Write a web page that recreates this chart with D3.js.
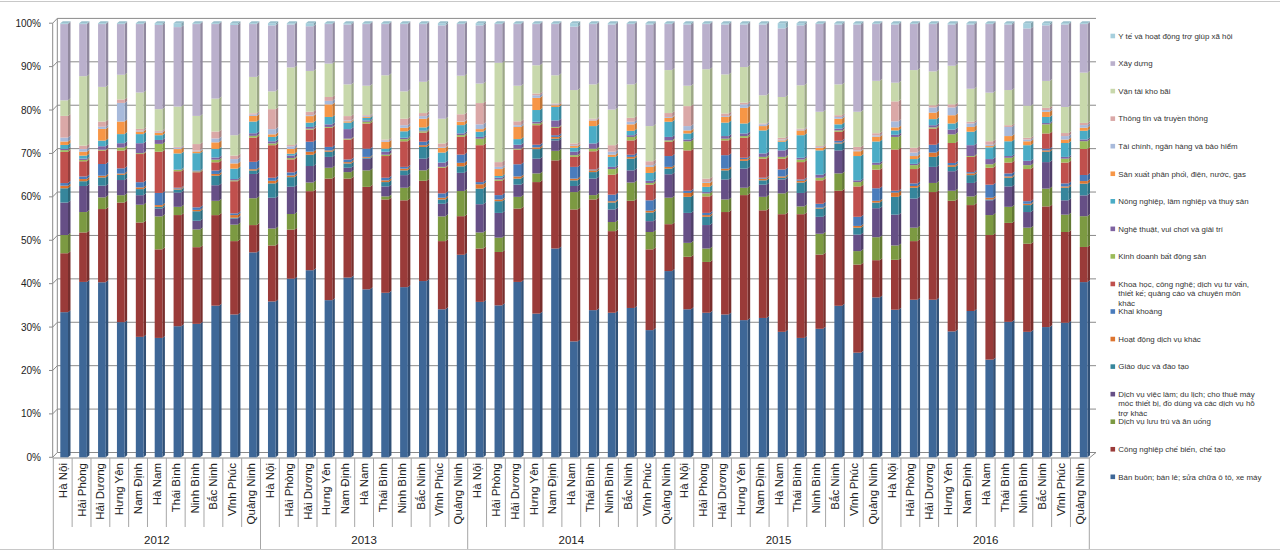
<!DOCTYPE html>
<html><head><meta charset="utf-8">
<script src="https://cdn.jsdelivr.net/npm/d3@7"></script>
<style>body{margin:0;background:#fff}svg{display:block}text{font-family:"Liberation Sans",Arial,sans-serif}</style>
</head><body><svg id="c" width="1280" height="556"></svg>
<script>
const years = ["2012","2013","2014","2015","2016"];
const provinces = ["Hà Nội","Hải Phòng","Hải Dương","Hưng Yên","Nam Định","Hà Nam","Thái Bình","Ninh Bình","Bắc Ninh","Vĩnh Phúc","Quảng Ninh"];
const yTicks = [0,0.1,0.2,0.3,0.4,0.5,0.6,0.7,0.8,0.9,1];
// series, bottom to top
const seriesNames = [
 "Bán buôn; bán lẻ; sửa chữa ô tô, xe máy",
 "Công nghiệp chế biến, chế tạo",
 "Dịch vụ lưu trú và ăn uống",
 "Dịch vụ việc làm; du lịch; cho thuê máy\nmóc thiết bị, đồ dùng và các dịch vụ hỗ\ntrợ khác",
 "Giáo dục và đào tạo",
 "Hoạt động dịch vụ khác",
 "Khai khoáng",
 "Khoa học, công nghệ; dịch vụ tư vấn,\nthiết kế; quảng cáo và chuyên môn\nkhác",
 "Kinh doanh bất động sản",
 "Nghệ thuật, vui chơi và giải trí",
 "Nông nghiệp, lâm nghiệp và thuỷ sản",
 "Sản xuất phân phối, điện, nước, gas",
 "Tài chính, ngân hàng và bảo hiểm",
 "Thông tin và truyền thông",
 "Vận tải kho bãi",
 "Xây dựng",
 "Y tế và hoạt động trợ giúp xã hội"
];
// values (%) per series, 2012..2016 x 11 provinces
const banBuon = [33.5,40.4,40.4,31.2,27.8,27.5,30.2,30.8,35.0,32.9,47.3, 35.9,41.2,43.1,36.2,41.4,38.7,37.9,39.2,40.6,34.1,46.7, 35.8,35.0,40.4,33.1,48.1,26.7,33.9,33.3,34.4,29.3,42.9, 34.1,33.3,32.9,31.6,32.1,28.9,27.5,29.6,34.9,24.1,36.9, 34.0,36.3,36.3,29.0,33.7,22.5,31.2,28.9,30.0,31.0,40.4];
const congNghiep = [13.6,11.4,16.9,27.6,26.4,20.4,25.6,17.7,20.9,16.9,6.3, 12.9,11.3,18.2,28.0,22.8,23.6,21.5,20.0,23.1,15.7,8.9, 12.3,12.3,16.9,30.3,20.3,30.4,25.5,18.8,24.7,18.6,10.8, 12.1,11.7,23.6,28.8,24.8,27.1,28.5,17.1,26.5,20.3,8.6, 11.5,13.5,24.8,30.1,24.4,28.7,22.8,20.3,27.8,20.9,8.1];
const luuTru = [4.2,4.7,2.7,1.7,4.1,7.6,1.9,4.1,3.3,3.8,6.2, 3.9,3.6,2.0,2.5,1.5,3.8,0.7,2.9,2.4,5.7,5.8, 3.7,3.3,2.7,2.0,2.2,4.0,1.0,2.1,4.2,4.0,6.1, 3.2,3.1,2.9,1.7,3.1,4.8,1.8,4.8,4.0,3.1,5.3, 3.3,3.1,2.1,2.3,2.0,4.6,3.7,3.7,4.1,4.0,7.1];
const viecLam = [7.5,6.0,2.7,3.5,2.2,1.8,3.3,2.0,3.6,1.4,5.6, 7.1,6.3,3.8,2.5,1.0,2.7,2.3,2.9,2.7,2.9,4.2, 6.5,5.7,2.8,3.4,2.4,1.4,3.8,2.9,2.8,2.5,5.4, 6.9,5.4,4.6,4.4,2.8,3.2,3.1,3.9,5.3,3.8,6.7, 7.1,6.7,3.7,4.5,3.1,3.4,4.7,3.6,6.1,3.3,4.8];
const giaoDuc = [3.3,1.1,1.9,1.2,1.4,0.4,0.7,2.2,2.2,0.2,0.8, 3.3,2.2,2.6,1.2,1.0,0.2,1.0,1.1,2.7,1.0,1.5, 3.6,2.7,1.4,2.2,0.4,1.3,1.5,1.6,2.7,2.0,1.3, 3.7,1.9,2.1,1.8,1.0,0.4,2.4,1.9,1.6,1.6,1.3, 4.1,2.5,2.3,1.0,1.8,0.2,2.0,1.6,2.4,2.9,2.7];
const dichVuKhac = [0.6,0.5,0.4,0.3,0.4,0.4,0.2,0.3,0.4,0.6,0.3, 0.6,0.4,0.7,0.3,0.3,0.2,0.4,0.4,0.4,0.4,0.8, 1.0,0.4,0.5,0.4,0.4,0.4,0.4,0.3,0.4,0.4,0.4, 0.9,0.4,0.4,0.4,0.4,0.3,0.4,0.2,0.2,0.4,0.4, 1.0,0.4,1.0,0.4,0.4,0.4,0.3,0.3,0.3,0.3,0.6];
const khaiKhoang = [0.6,0.6,2.7,1.2,1.2,2.8,0.2,0.6,0.8,0.4,1.7, 0.7,0.7,2.3,0.8,0.6,1.9,0.6,0.4,0.8,1.0,1.9, 0.5,1.0,2.8,0.6,0.4,2.7,0.2,1.5,0.5,2.4,2.5, 0.5,0.5,3.1,0.3,0.2,1.6,0.3,0.9,0.4,2.1,2.9, 0.4,0.6,1.8,0.5,0.3,3.0,0.7,0.6,0.4,0.7,1.4];
const khoaHoc = [7.2,3.5,3.1,4.1,6.5,9.5,3.8,8.1,1.9,7.4,5.6, 7.5,3.0,2.8,4.4,4.6,5.8,5.0,5.9,2.1,5.9,4.1, 8.5,3.3,3.4,4.5,1.7,2.3,4.2,4.6,3.3,3.6,3.3, 9.3,3.8,3.4,4.6,4.4,2.5,4.0,5.4,2.1,7.0,4.3, 9.5,3.3,3.7,4.6,3.5,3.9,2.5,7.4,3.5,4.8,6.0];
const batDongSan = [0.4,0.3,0.2,0.7,0.2,1.8,0.3,0.2,0.6,0.2,0.4, 0.4,0.3,0.2,0.2,0.2,0.4,0.3,0.5,0.3,0.2,0.4, 1.5,0.3,0.2,0.4,0.2,0.4,0.6,1.3,0.8,0.4,0.3, 2.1,0.7,0.4,0.4,0.4,0.4,0.6,0.6,0.3,1.0,1.1, 2.9,0.9,0.3,2.0,0.2,0.8,1.1,0.9,2.1,0.9,1.8];
const ngheThuat = [0.3,0.3,0.8,1.0,2.3,0.9,0.1,0.2,0.5,0.3,0.6, 0.5,0.6,0.4,0.6,2.2,0.3,0.7,0.3,0.2,1.0,0.4, 0.4,0.4,0.9,0.4,1.5,0.8,1.2,0.5,0.4,0.5,0.8, 0.4,0.3,0.6,0.6,0.8,1.5,0.4,0.7,0.4,0.4,0.5, 0.5,0.3,0.5,1.1,2.5,1.2,0.4,1.0,0.3,0.4,0.4];
const nongNghiep = [0.9,0.7,1.3,2.1,2.1,1.1,3.7,4.0,2.0,2.4,2.7, 1.0,0.4,1.0,1.7,1.5,0.6,0.7,1.5,0.7,2.3,1.9, 1.2,0.4,1.3,2.7,3.1,0.9,4.0,2.3,1.0,1.8,3.5, 1.4,1.2,3.1,2.3,5.3,2.0,5.2,5.6,1.0,5.6,4.9, 1.0,1.1,1.4,1.4,3.1,2.7,3.4,3.6,1.4,3.2,2.0];
const dienNuoc = [0.8,0.9,2.7,2.9,0.6,0.6,1.0,0.4,1.5,1.2,1.3, 0.6,1.1,1.5,2.9,0.3,0.2,1.6,0.8,2.0,1.1,0.8, 0.6,1.6,2.8,2.8,0.4,0.4,1.3,0.5,1.5,1.4,0.9, 0.7,0.9,1.3,3.6,1.0,0.3,1.1,0.6,1.3,1.1,1.1, 0.7,0.7,1.5,1.9,1.1,0.3,1.2,0.9,1.2,0.8,0.7];
const taiChinh = [0.9,0.6,0.5,4.3,0.2,0.2,0.3,0.2,0.9,1.0,0.3, 1.2,0.6,0.2,0.8,0.2,0.2,0.3,0.6,0.6,0.2,0.1, 1.1,0.5,0.4,0.6,0.2,0.2,0.2,0.7,0.6,0.4,0.2, 1.0,0.2,0.2,0.8,0.4,0.2,0.2,0.2,0.4,0.2,0.3, 1.4,0.8,1.2,1.8,0.8,0.3,2.1,0.4,0.4,0.8,0.6];
const thongTin = [5.0,0.8,1.2,0.8,0.4,0.2,0.2,1.5,1.6,0.8,0.3, 4.6,0.3,0.8,0.9,1.0,0.2,0.2,1.5,0.7,0.8,1.6, 4.9,1.1,0.9,0.4,0.2,0.4,0.2,1.5,0.9,0.9,0.9, 4.6,0.8,0.6,0.4,0.2,0.4,0.2,0.2,0.4,0.8,0.5, 4.6,1.1,0.5,0.7,0.4,0.8,0.4,0.4,0.5,0.7,0.5];
const vanTai = [3.6,16.0,8.0,5.7,8.4,5.0,9.3,6.5,7.6,4.7,8.4, 4.1,17.9,9.4,7.7,7.3,6.8,14.8,6.3,7.2,5.7,8.9, 4.5,22.9,8.2,6.5,6.5,12.3,7.9,8.2,7.7,8.1,9.9, 4.7,25.2,9.0,8.2,6.5,9.4,10.0,7.9,7.1,8.1,12.1, 4.3,17.9,7.8,8.9,7.6,11.2,8.1,7.4,6.2,6.0,11.6];
const xayDung = [17.6,12.0,14.5,11.7,15.8,19.4,18.3,21.2,17.2,25.4,12.2, 15.2,9.9,10.3,9.1,13.8,14.2,11.8,15.5,13.3,21.5,11.9, 13.4,8.9,14.2,9.5,11.8,14.6,13.9,19.6,13.9,23.4,10.6, 14.1,10.4,11.5,9.8,16.3,15.8,13.8,20.2,13.8,20.1,13.1, 13.4,10.6,10.9,9.5,14.8,15.8,15.1,17.8,12.8,19.0,11.2];
const yTe = [0.2,0.2,0.2,0.2,0.2,0.4,0.9,0.2,0.2,0.4,0.2, 0.5,0.3,0.7,0.2,0.3,0.2,0.2,0.2,0.2,0.5,0.2, 0.5,0.2,0.2,0.2,0.2,0.8,0.2,0.3,0.2,0.3,0.2, 0.3,0.2,0.3,0.3,0.3,1.2,0.5,0.2,0.3,0.3,0.2, 0.3,0.2,0.2,0.3,0.3,0.2,0.3,1.2,0.5,0.3,0.2];
const seriesValues = [banBuon,congNghiep,luuTru,viecLam,giaoDuc,dichVuKhac,khaiKhoang,khoaHoc,batDongSan,ngheThuat,nongNghiep,dienNuoc,taiChinh,thongTin,vanTai,xayDung,yTe];
const colors = ["#3E6797","#9A3B39","#7C9A42","#664F86","#36869C","#DD7530","#4A7CBC","#C0504D","#9BBB59","#7F63A1","#4BACC6","#F79646","#A8BADB","#DAA8A7","#C8D8AC","#BAB0CC","#A6CFDD"];

const svg = d3.select("#c");
const keys = [];
years.forEach(y => provinces.forEach(p => keys.push(y + "|" + p)));
const rows = keys.map((k, i) => { const o = {key: k}; seriesValues.forEach((arr, j) => o["s" + j] = arr[i]); return o; });
const skeys = seriesValues.map((_, j) => "s" + j);
const layers = d3.stack().keys(skeys).offset(d3.stackOffsetExpand)(rows);

const y = d3.scaleLinear().domain([0, 1]).range([457.3, 23.2]);
const xCat = d3.scaleBand().domain(keys).range([53.3, 1089.3]);
const xBar = d3.scaleBand().domain(keys).range([60.3, 1087.5]).paddingInner(0.5922).paddingOuter(0);
const DX = 2.5, DY = -2.0, WY = -4.8, WX = 4.6;
const gridC = "#8a8a8a";

// frame
svg.append("line").attr("x1", 0).attr("x2", 1280).attr("y1", 1.5).attr("y2", 1.5).attr("stroke", "#c8c8c8");
svg.append("line").attr("x1", 0).attr("x2", 1280).attr("y1", 549.5).attr("y2", 549.5).attr("stroke", "#c8c8c8");

// back wall gridlines
const g = svg.append("g");
yTicks.forEach(t => {
  g.append("path").attr("d", `M52.7,${y(t)}L${52.7 + WX},${y(t) + WY}L1096,${y(t) + WY}`)
    .attr("fill", "none").attr("stroke", gridC).attr("stroke-width", 1);
  g.append("line").attr("x1", 49).attr("x2", 52.7).attr("y1", y(t)).attr("y2", y(t)).attr("stroke", gridC);
});
g.append("line").attr("x1", 52.7).attr("x2", 52.7).attr("y1", y(0)).attr("y2", y(1)).attr("stroke", gridC);
g.append("line").attr("x1", 52.7 + WX).attr("x2", 52.7 + WX).attr("y1", y(0) + WY).attr("y2", y(1) + WY).attr("stroke", gridC);
// floor front edge
g.append("path").attr("d", `M52.7,${y(0) + 0.7}L1089.3,${y(0) + 0.7}L1096,${y(0) + WY}`).attr("fill", "none").attr("stroke", gridC);

// y labels
svg.append("g").selectAll("text").data(yTicks).join("text")
  .attr("x", 41).attr("y", d => y(d)).attr("dy", "0.35em").attr("text-anchor", "end")
  .attr("font-size", 10).attr("fill", "#222").text(d => Math.round(d * 100) + "%");

// bars
const bw = xBar.bandwidth();
layers.forEach((layer, j) => {
  const c = d3.color(colors[j]);
  const side = c.darker(0.7).formatHex();
  const gl = svg.append("g");
  gl.selectAll("path.side").data(layer).join("path").attr("class", "side")
    .attr("d", d => { const x1 = xBar(d.data.key) + bw, y0 = y(d[0]), y1 = y(d[1]);
      return `M${x1},${y1}L${x1 + DX},${y1 + DY}L${x1 + DX},${y0 + DY}L${x1},${y0}Z`; })
    .attr("fill", side);
  gl.selectAll("rect").data(layer).join("rect")
    .attr("x", d => xBar(d.data.key)).attr("width", bw)
    .attr("y", d => y(d[1])).attr("height", d => Math.max(0, y(d[0]) - y(d[1])))
    .attr("fill", colors[j]);
  if (j === layers.length - 1) {
    gl.selectAll("path.top").data(layer).join("path").attr("class", "top")
      .attr("d", d => { const x0 = xBar(d.data.key), yt = y(d[1]);
        return `M${x0},${yt}L${x0 + DX},${yt + DY}L${x0 + bw + DX},${yt + DY}L${x0 + bw},${yt}Z`; })
      .attr("fill", c.darker(0.2).formatHex());
  }
});

// category separators and labels
const step = xCat.step();
const sep = svg.append("g").attr("stroke", "#a6a6a6");
d3.range(keys.length + 1).forEach(i => {
  const xx = 53.3 + i * step;
  sep.append("line").attr("x1", xx).attr("x2", xx).attr("y1", 458).attr("y2", i % provinces.length === 0 ? 549 : 527);
});
svg.append("g").selectAll("text").data(keys).join("text")
  .attr("transform", d => `translate(${xCat(d) + step / 2},463) rotate(-90)`)
  .attr("text-anchor", "end").attr("dy", "0.35em").attr("font-size", 11.5).attr("fill", "#222")
  .text(d => d.split("|")[1]);
svg.append("g").selectAll("text").data(years).join("text")
  .attr("x", (d, i) => xCat(d + "|" + provinces[0]) + step * provinces.length / 2)
  .attr("y", 544).attr("text-anchor", "middle").attr("font-size", 11.5).attr("fill", "#222").text(d => d);

// legend (top = last series)
const leg = svg.append("g");
const order = d3.range(seriesNames.length).reverse();
order.forEach((j, k) => {
  const cy = 36 + k * 27.55;
  leg.append("rect").attr("x", 1110.5).attr("y", cy - 2.3).attr("width", 4.6).attr("height", 4.6).attr("fill", colors[j]);
  const lines = seriesNames[j].split("\n");
  const t = leg.append("text").attr("x", 1118.3).attr("y", cy).attr("font-size", 7.9).attr("fill", "#333");
  lines.forEach((ln, li) => t.append("tspan").attr("x", 1118.3).attr("y", cy + li * 9.5).attr("dy", "0.35em").text(ln));
});
</script></body></html>
